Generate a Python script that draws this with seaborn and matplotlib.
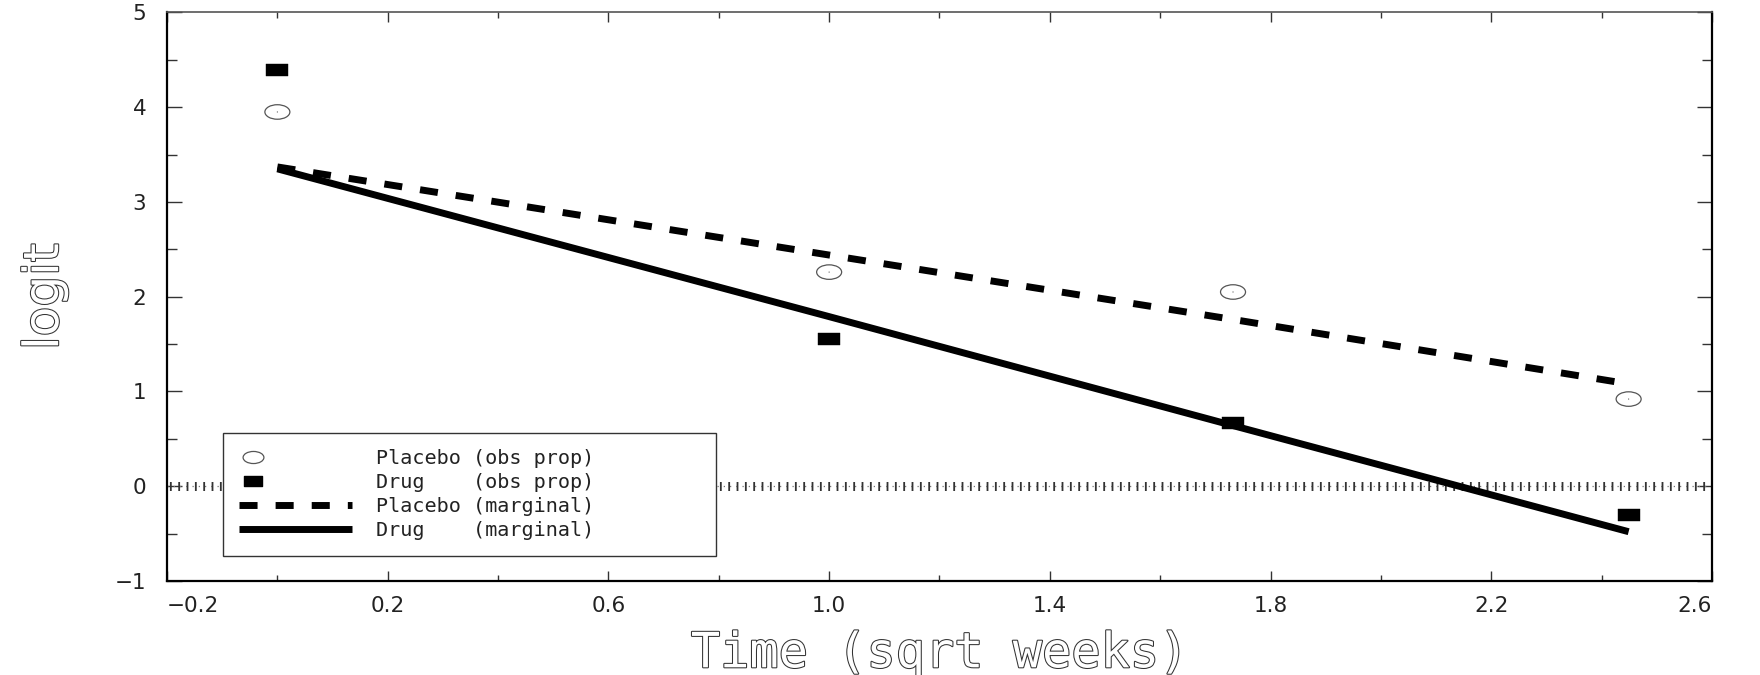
import numpy as np
import matplotlib
matplotlib.use("Agg")
import matplotlib.pyplot as plt
import matplotlib.patheffects as pe
from matplotlib.path import Path
from matplotlib.lines import Line2D
from matplotlib.legend_handler import HandlerLine2D
from matplotlib.ticker import FixedLocator
import seaborn as sns

# ---- data ----
time = [0.0, 1.0, 1.732, 2.449]
placebo_obs = [3.95, 2.26, 2.05, 0.92]
drug_obs = [4.39, 1.55, 0.67, -0.30]
placebo_marg = [3.37, 2.44, 1.76, 1.08]
drug_marg = [3.35, 1.79, 0.64, -0.48]

x_major = [-0.2, 0.2, 0.6, 1.0, 1.4, 1.8, 2.2, 2.6]
x_labels = ["\u22120.2", "0.2", "0.6", "1.0", "1.4", "1.8", "2.2", "2.6"]
x_minor = [0.0, 0.4, 0.8, 1.2, 1.6, 2.0, 2.4]
y_major = [-1, 0, 1, 2, 3, 4, 5]
y_labels = ["\u22121", "0", "1", "2", "3", "4", "5"]
y_minor = [-0.5, 0.5, 1.5, 2.5, 3.5, 4.5]

legend_labels = ["Placebo (obs prop)", "Drug    (obs prop)",
                 "Placebo (marginal)", "Drug    (marginal)"]

sns.set_theme(style="white")
plt.rcParams["font.family"] = ["DejaVu Sans"]
plt.rcParams["hatch.linewidth"] = 1.3

fig = plt.figure(figsize=(17.6, 6.75), dpi=100)
ax = fig.add_axes([0.0949, 0.1393, 0.8778, 0.8422])

# marker shapes
circ = Path.unit_circle()
ellipse = Path(circ.vertices * np.array([1.0, 0.58]), circ.codes)
rect = Path([(-1, -0.55), (1, -0.55), (1, 0.55), (-1, 0.55), (-1, -0.55)],
            [Path.MOVETO, Path.LINETO, Path.LINETO, Path.LINETO, Path.CLOSEPOLY])

# zero reference line (dotted with tick marks)
ax.axhline(0, color="#777777", lw=0.9, ls=(0, (1, 4)), zorder=1)
ax.axhspan(-0.047, 0.047, facecolor="none", edgecolor="#333333",
           linewidth=0, hatch="||", zorder=1)

# model lines
sns.lineplot(x=time, y=placebo_marg, ax=ax, color="black", linewidth=5,
             linestyle=(0, (2.6, 2.6)), dash_capstyle="butt", legend=False,
             zorder=3)
sns.lineplot(x=time, y=drug_marg, ax=ax, color="black", linewidth=5,
             solid_capstyle="butt", legend=False, zorder=3)

# observed points
sns.scatterplot(x=time, y=placebo_obs, ax=ax, marker=ellipse, s=18 ** 2,
                color="none", edgecolor="#555555", linewidth=0.9, zorder=4,
                legend=False)
sns.scatterplot(x=time, y=placebo_obs, ax=ax, marker=".", s=3,
                color="#555555", edgecolor="none", zorder=4, legend=False)
sns.scatterplot(x=time, y=drug_obs, ax=ax, marker=rect, s=16.5 ** 2,
                color="black", edgecolor="black", linewidth=0.3, zorder=5,
                legend=False)

# axes limits & ticks
ax.set_xlim(-0.2, 2.6)
ax.set_ylim(-1, 5)
ax.xaxis.set_major_locator(FixedLocator(x_major))
ax.set_xticklabels(x_labels)
ax.xaxis.set_minor_locator(FixedLocator(x_minor))
ax.yaxis.set_major_locator(FixedLocator(y_major))
ax.set_yticklabels(y_labels)
ax.yaxis.set_minor_locator(FixedLocator(y_minor))

ax.tick_params(axis="x", which="major", direction="in", length=7, width=1,
               color="#333333", top=True, bottom=True, pad=11, labelsize=15.5,
               labelcolor="#222222")
ax.tick_params(axis="x", which="minor", direction="in", length=4.5, width=1,
               color="#333333", top=True, bottom=True)
ax.tick_params(axis="y", which="major", direction="in", length=11, width=1,
               color="#333333", left=True, right=True, pad=15, labelsize=15.5,
               labelcolor="#222222")
ax.tick_params(axis="y", which="minor", direction="in", length=7, width=1,
               color="#333333", left=True, right=True)

xl = ax.get_xticklabels()
xl[0].set_ha("left")
xl[-1].set_ha("right")

for side in ["left", "bottom", "right", "top"]:
    ax.spines[side].set_visible(True)
    ax.spines[side].set_color("black")
    ax.spines[side].set_linewidth(1.6)
ax.spines["top"].set_color("#555555")
ax.spines["top"].set_linewidth(1.2)

# hollow axis labels
hollow = [pe.Stroke(linewidth=1.5, foreground="#333333"), pe.Normal()]
ax.set_xlabel("Time (sqrt weeks)", fontsize=35, color="white",
              family=["DejaVu Sans Mono"])
ax.xaxis.label.set_path_effects(hollow)
ax.xaxis.set_label_coords(0.5, -0.085)
ax.set_ylabel("logit", fontsize=35, color="white")
ax.yaxis.label.set_path_effects(hollow)
ax.yaxis.set_label_coords(-0.064, 0.5)


# legend with markers at left of handle
class LeftMarkerHandler(HandlerLine2D):
    def get_xdata(self, legend, xdescent, ydescent, width, height, fontsize):
        x = -xdescent + 0.12 * width
        return np.array([x, x]), np.array([x])


handles = [
    Line2D([], [], ls="none", marker=ellipse, ms=15, mfc="none",
           mec="#555555", mew=0.9),
    Line2D([], [], ls="none", marker=rect, ms=13, mfc="black", mec="black"),
    Line2D([], [], color="black", lw=5, ls=(0, (2.6, 2.6)),
           dash_capstyle="butt"),
    Line2D([], [], color="black", lw=5, solid_capstyle="butt"),
]
hmap = {handles[0]: LeftMarkerHandler(), handles[1]: LeftMarkerHandler()}
leg = ax.legend(handles, legend_labels, loc="lower left",
                bbox_to_anchor=(0.0362, 0.044, 0.319, 0.2), mode="expand",
                borderaxespad=0, prop={"family": "DejaVu Sans Mono", "size": 14.5},
                handlelength=5.6, handletextpad=1.2, labelspacing=0.25,
                borderpad=0.8, frameon=True, fancybox=False, framealpha=1,
                edgecolor="#333333", handler_map=hmap)
leg.get_frame().set_linewidth(1.0)
for t in leg.get_texts():
    t.set_color("#222222")

fig.savefig("out.png", dpi=100)
